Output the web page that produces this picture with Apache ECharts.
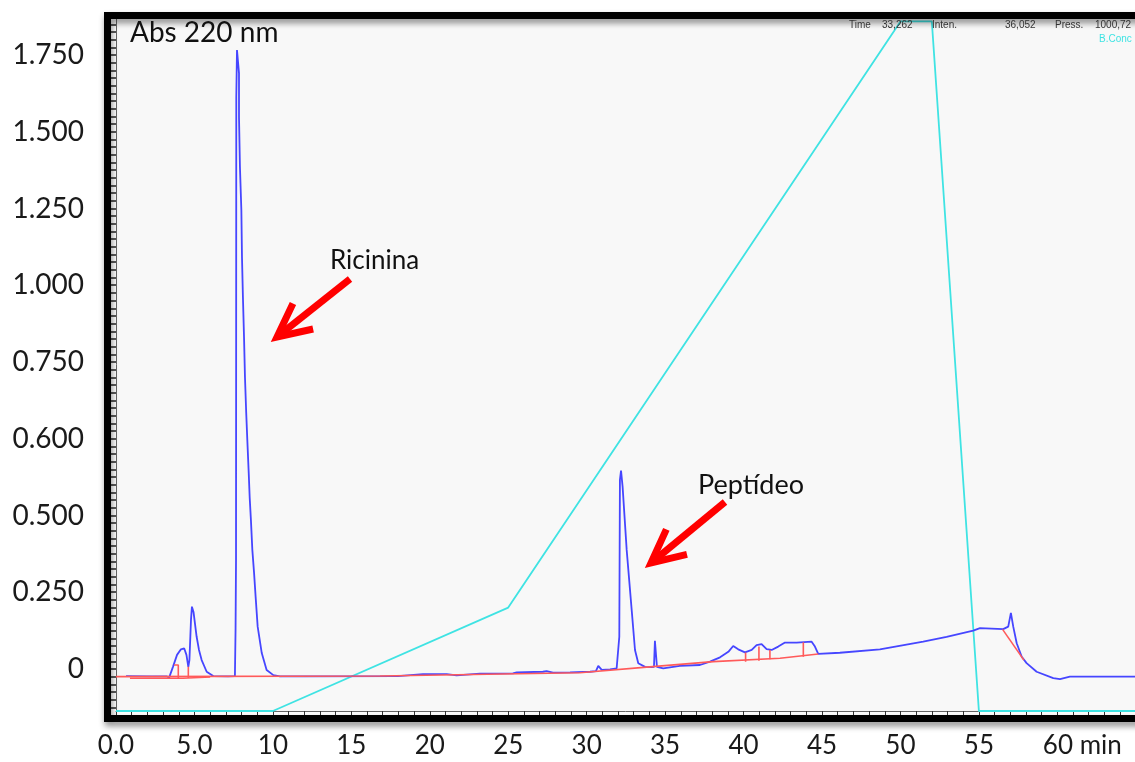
<!DOCTYPE html>
<html>
<head>
<meta charset="utf-8">
<title>Abs 220 nm</title>
<script src="https://cdn.jsdelivr.net/npm/echarts@6/dist/echarts.min.js"></script>
<style>
  html, body { margin: 0; padding: 0; background: #ffffff; }
  #chart { width: 1135px; height: 762px; }
</style>
</head>
<body>
<div id="chart"></div>
<script>
// Retention time (min) vs absorbance at 220 nm
const absTrace = [
  [0.64, -0.023], [2.17, -0.024], [3.25, -0.024], [3.38, -0.029], [3.63, 0.007],
  [3.89, 0.046], [4.14, 0.064], [4.35, 0.067], [4.49, 0.046], [4.61, 0.007],
  [4.68, 0.029], [4.78, 0.160], [4.84, 0.203], [4.94, 0.186], [5.14, 0.105],
  [5.29, 0.062], [5.46, 0.029], [5.78, -0.009], [6.20, -0.023], [7.14, -0.024],
  [7.58, -0.023], [7.62, 0.127], [7.65, 0.355], [7.667, 1.863], [7.712, 2.016],
  [7.757, 2.016], [7.84, 1.941], [7.84, 1.798], [7.90, 1.635], [7.99, 1.495],
  [8.03, 1.342], [8.09, 1.212], [8.16, 1.081], [8.22, 0.951], [8.30, 0.834],
  [8.37, 0.746], [8.46, 0.638], [8.52, 0.560], [8.60, 0.485], [8.69, 0.388],
  [8.80, 0.313], [8.90, 0.235], [9.03, 0.138], [9.29, 0.052], [9.60, -0.003],
  [10.03, -0.020], [10.45, -0.024], [11.73, -0.024], [17.97, -0.023], [19.57, -0.017],
  [21.08, -0.017], [21.71, -0.021], [23.20, -0.015], [25.30, -0.014], [25.54, -0.011],
  [27.21, -0.009], [27.45, -0.007], [27.85, -0.012], [28.94, -0.011], [30.21, -0.009],
  [30.59, -0.007], [30.74, 0.010], [30.96, -0.003], [31.49, -0.001], [31.91, 0.002],
  [32.08, 0.105], [32.12, 0.616], [32.19, 0.646], [32.29, 0.594], [32.55, 0.388],
  [32.87, 0.192], [33.08, 0.062], [33.29, 0.019], [33.72, 0.007], [34.14, 0.006],
  [34.29, 0.007], [34.35, 0.092], [34.44, 0.091], [34.48, 0.007], [34.88, 0.002],
  [35.94, 0.010], [37.22, 0.013], [37.86, 0.024], [38.50, 0.038], [39.03, 0.056],
  [39.34, 0.075], [39.66, 0.064], [40.09, 0.054], [40.52, 0.062], [40.83, 0.078],
  [41.15, 0.081], [41.47, 0.065], [41.79, 0.062], [42.21, 0.073], [42.64, 0.086],
  [43.38, 0.086], [44.34, 0.089], [44.55, 0.073], [44.76, 0.049], [46.14, 0.053],
  [48.69, 0.064], [51.45, 0.089], [52.94, 0.105], [54.64, 0.125], [55.07, 0.133],
  [56.55, 0.130], [56.87, 0.138], [57.04, 0.183], [57.13, 0.181], [57.19, 0.138],
  [57.41, 0.084], [57.73, 0.040], [58.04, 0.019], [58.68, -0.009], [59.74, -0.030],
  [60.17, -0.033], [60.80, -0.025], [64.95, -0.025]
];

// Integration baselines and peak drop lines
const baselineMain = [
  [0, -0.025], [16.83, -0.023], [29.57, -0.012], [33.82, 0.006],
  [38.07, 0.024], [42.32, 0.035], [44.76, 0.049]
];
const baselineEarly = [[0.89, -0.030], [4.27, -0.030], [6.0, -0.026]];
const dropEarly1 = [[3.70, 0.013], [3.97, 0.013], [3.97, -0.030]];
const dropEarly2 = [[4.61, 0.007], [4.61, -0.029]];
const dropPep1 = [[40.13, 0.054], [40.13, 0.024]];
const dropPep2 = [[40.98, 0.073], [40.98, 0.027]];
const dropPep3 = [[41.68, 0.062], [41.68, 0.032]];
const dropPep4 = [[43.81, 0.087], [43.81, 0.040]];
const baselineLate = [[56.51, 0.129], [57.87, 0.029]];

// Solvent B concentration (%) program
const gradientB = [[0, 0], [10, 0], [25, 15], [50, 100], [52, 100], [55, 0], [64.95, 0]];

// Axis ticks and labels
const xTickValues = [0, 5, 10, 15, 20, 25, 30, 35, 40, 45, 50, 55, 60];
const xTickLabels = ['0.0', '5.0', '10', '15', '20', '25', '30', '35', '40', '45', '50', '55', '60 min'];
const yTickValues = [0, 0.25, 0.5, 0.75, 1.0, 1.25, 1.5, 1.75, 2.0];
const yTickLabels = ['0', '0.250', '0.500', '0.600', '0.750', '1.000', '1.250', '1.500', '1.750'];

// Status line of the instrument
const statusItems = [
  { text: 'Time', x: 849 }, { text: '33,262', x: 882 },
  { text: 'Inten.', x: 932 }, { text: '36,052', x: 1005 },
  { text: 'Press.', x: 1055 }, { text: '1000,72', x: 1095 }
];

const BLUE = '#4646ff';
const RED = '#ff5a5a';
const CYAN = '#3fe3e3';
const LABEL_FONT = 'Lato, "Open Sans", sans-serif';

const minorX = [];
for (let i = 0; i <= 64; i++) minorX.push(i);
const minorY = [];
for (let i = -5; i <= 84; i++) minorY.push(+(i * 0.025).toFixed(3));

function redSeries(data) {
  return {
    type: 'line', data: data, showSymbol: false, silent: true,
    lineStyle: { color: RED, width: 1.6 }, z: 4
  };
}

// Open red arrow given tip and tail in pixels
function arrow(tip, tail) {
  const ang = Math.atan2(tail[1] - tip[1], tail[0] - tip[0]);
  const spread = 26 * Math.PI / 180, len = 37;
  const w1 = [tip[0] + len * Math.cos(ang - spread), tip[1] + len * Math.sin(ang - spread)];
  const w2 = [tip[0] + len * Math.cos(ang + spread), tip[1] + len * Math.sin(ang + spread)];
  const style = { stroke: '#ff0000', lineWidth: 7, fill: null, lineJoin: 'miter', lineCap: 'butt' };
  return [
    { type: 'polyline', shape: { points: [tail, [tip[0] + 4 * Math.cos(ang), tip[1] + 4 * Math.sin(ang)]] }, style: style, z: 50 },
    { type: 'polyline', shape: { points: [w1, tip, w2] }, style: style, z: 50 }
  ];
}

const chart = echarts.init(document.getElementById('chart'), null, { renderer: 'canvas' });

const graphics = [
  // heavy frame around the plot
  {
    type: 'rect', z: 40,
    shape: { x: 107.5, y: 15.5, width: 1100, height: 703 },
    style: { fill: null, stroke: '#000', lineWidth: 7, shadowBlur: 6, shadowOffsetX: 1, shadowOffsetY: 4, shadowColor: 'rgba(0,0,0,0.45)' }
  },
  { type: 'text', z: 45, x: 130, y: 33, style: { text: 'Abs 220 nm', font: '28px ' + LABEL_FONT, fill: '#111', verticalAlign: 'middle' } },
  { type: 'text', z: 45, x: 330, y: 261, style: { text: 'Ricinina', font: '26px ' + LABEL_FONT, fill: '#111', verticalAlign: 'middle' } },
  { type: 'text', z: 45, x: 698, y: 485, style: { text: 'Peptídeo', font: '27px ' + LABEL_FONT, fill: '#111', verticalAlign: 'middle' } },
  { type: 'text', z: 45, x: 1099, y: 39, style: { text: 'B.Conc', font: '10px "Liberation Sans", Arial, sans-serif', fill: CYAN, verticalAlign: 'middle' } }
].concat(statusItems.map(function (s) {
  return { type: 'text', z: 45, x: s.x, y: 25, style: { text: s.text, font: '10px "Liberation Sans", Arial, sans-serif', fill: '#333', verticalAlign: 'middle' } };
})).concat(arrow([277, 337], [350, 279])).concat(arrow([651, 563], [725, 502]));

chart.setOption({
  animation: false,
  backgroundColor: '#ffffff',
  grid: {
    left: 116, top: 18, right: 0, bottom: 51,
    show: true, backgroundColor: '#f8f8f8', borderWidth: 0
  },
  xAxis: {
    type: 'value', min: 0, max: 64.95,
    splitLine: { show: false },
    axisLine: { show: true, onZero: false, lineStyle: { color: '#666', width: 1 } },
    axisTick: { show: true, inside: false, length: 4, customValues: minorX, lineStyle: { color: '#333', width: 1 } },
    axisLabel: {
      customValues: xTickValues, margin: 22, fontFamily: LABEL_FONT, fontSize: 26, color: '#1a1a1a',
      formatter: function (v) {
        const i = xTickValues.indexOf(Math.round(v));
        const t = i >= 0 ? xTickLabels[i] : '';
        return t.indexOf(' ') > 0 ? '{s|}{m|' + t + '}' : t;
      },
      rich: { s: { width: 50 }, m: { fontFamily: LABEL_FONT, fontSize: 26, color: '#1a1a1a' } }
    }
  },
  yAxis: [
    {
      type: 'value', min: -0.13681, max: 2.12052,
      splitLine: { show: false },
      axisLine: { show: true, onZero: false, lineStyle: { color: '#666', width: 1 } },
      axisTick: { show: true, inside: false, length: 5, customValues: minorY, lineStyle: { color: '#222', width: 1.5 } },
      axisLabel: {
        customValues: yTickValues, margin: 32, fontFamily: LABEL_FONT, fontSize: 28, color: '#1a1a1a',
        formatter: function (v) {
          const i = Math.round(v / 0.25);
          return yTickLabels[i] !== undefined ? yTickLabels[i] : '';
        }
      }
    },
    { type: 'value', min: 0, max: 100.5, show: false }
  ],
  series: [
    {
      name: 'B.Conc', type: 'line', yAxisIndex: 1, data: gradientB, showSymbol: false, silent: true,
      lineStyle: { color: CYAN, width: 1.8 }, z: 2
    },
    {
      name: 'Abs 220 nm', type: 'line', data: absTrace, showSymbol: false, silent: true,
      lineStyle: { color: BLUE, width: 1.8 }, z: 3
    },
    redSeries(baselineMain), redSeries(baselineEarly), redSeries(dropEarly1), redSeries(dropEarly2),
    redSeries(dropPep1), redSeries(dropPep2), redSeries(dropPep3), redSeries(dropPep4),
    redSeries(baselineLate)
  ],
  graphic: graphics
});
</script>
</body>
</html>
